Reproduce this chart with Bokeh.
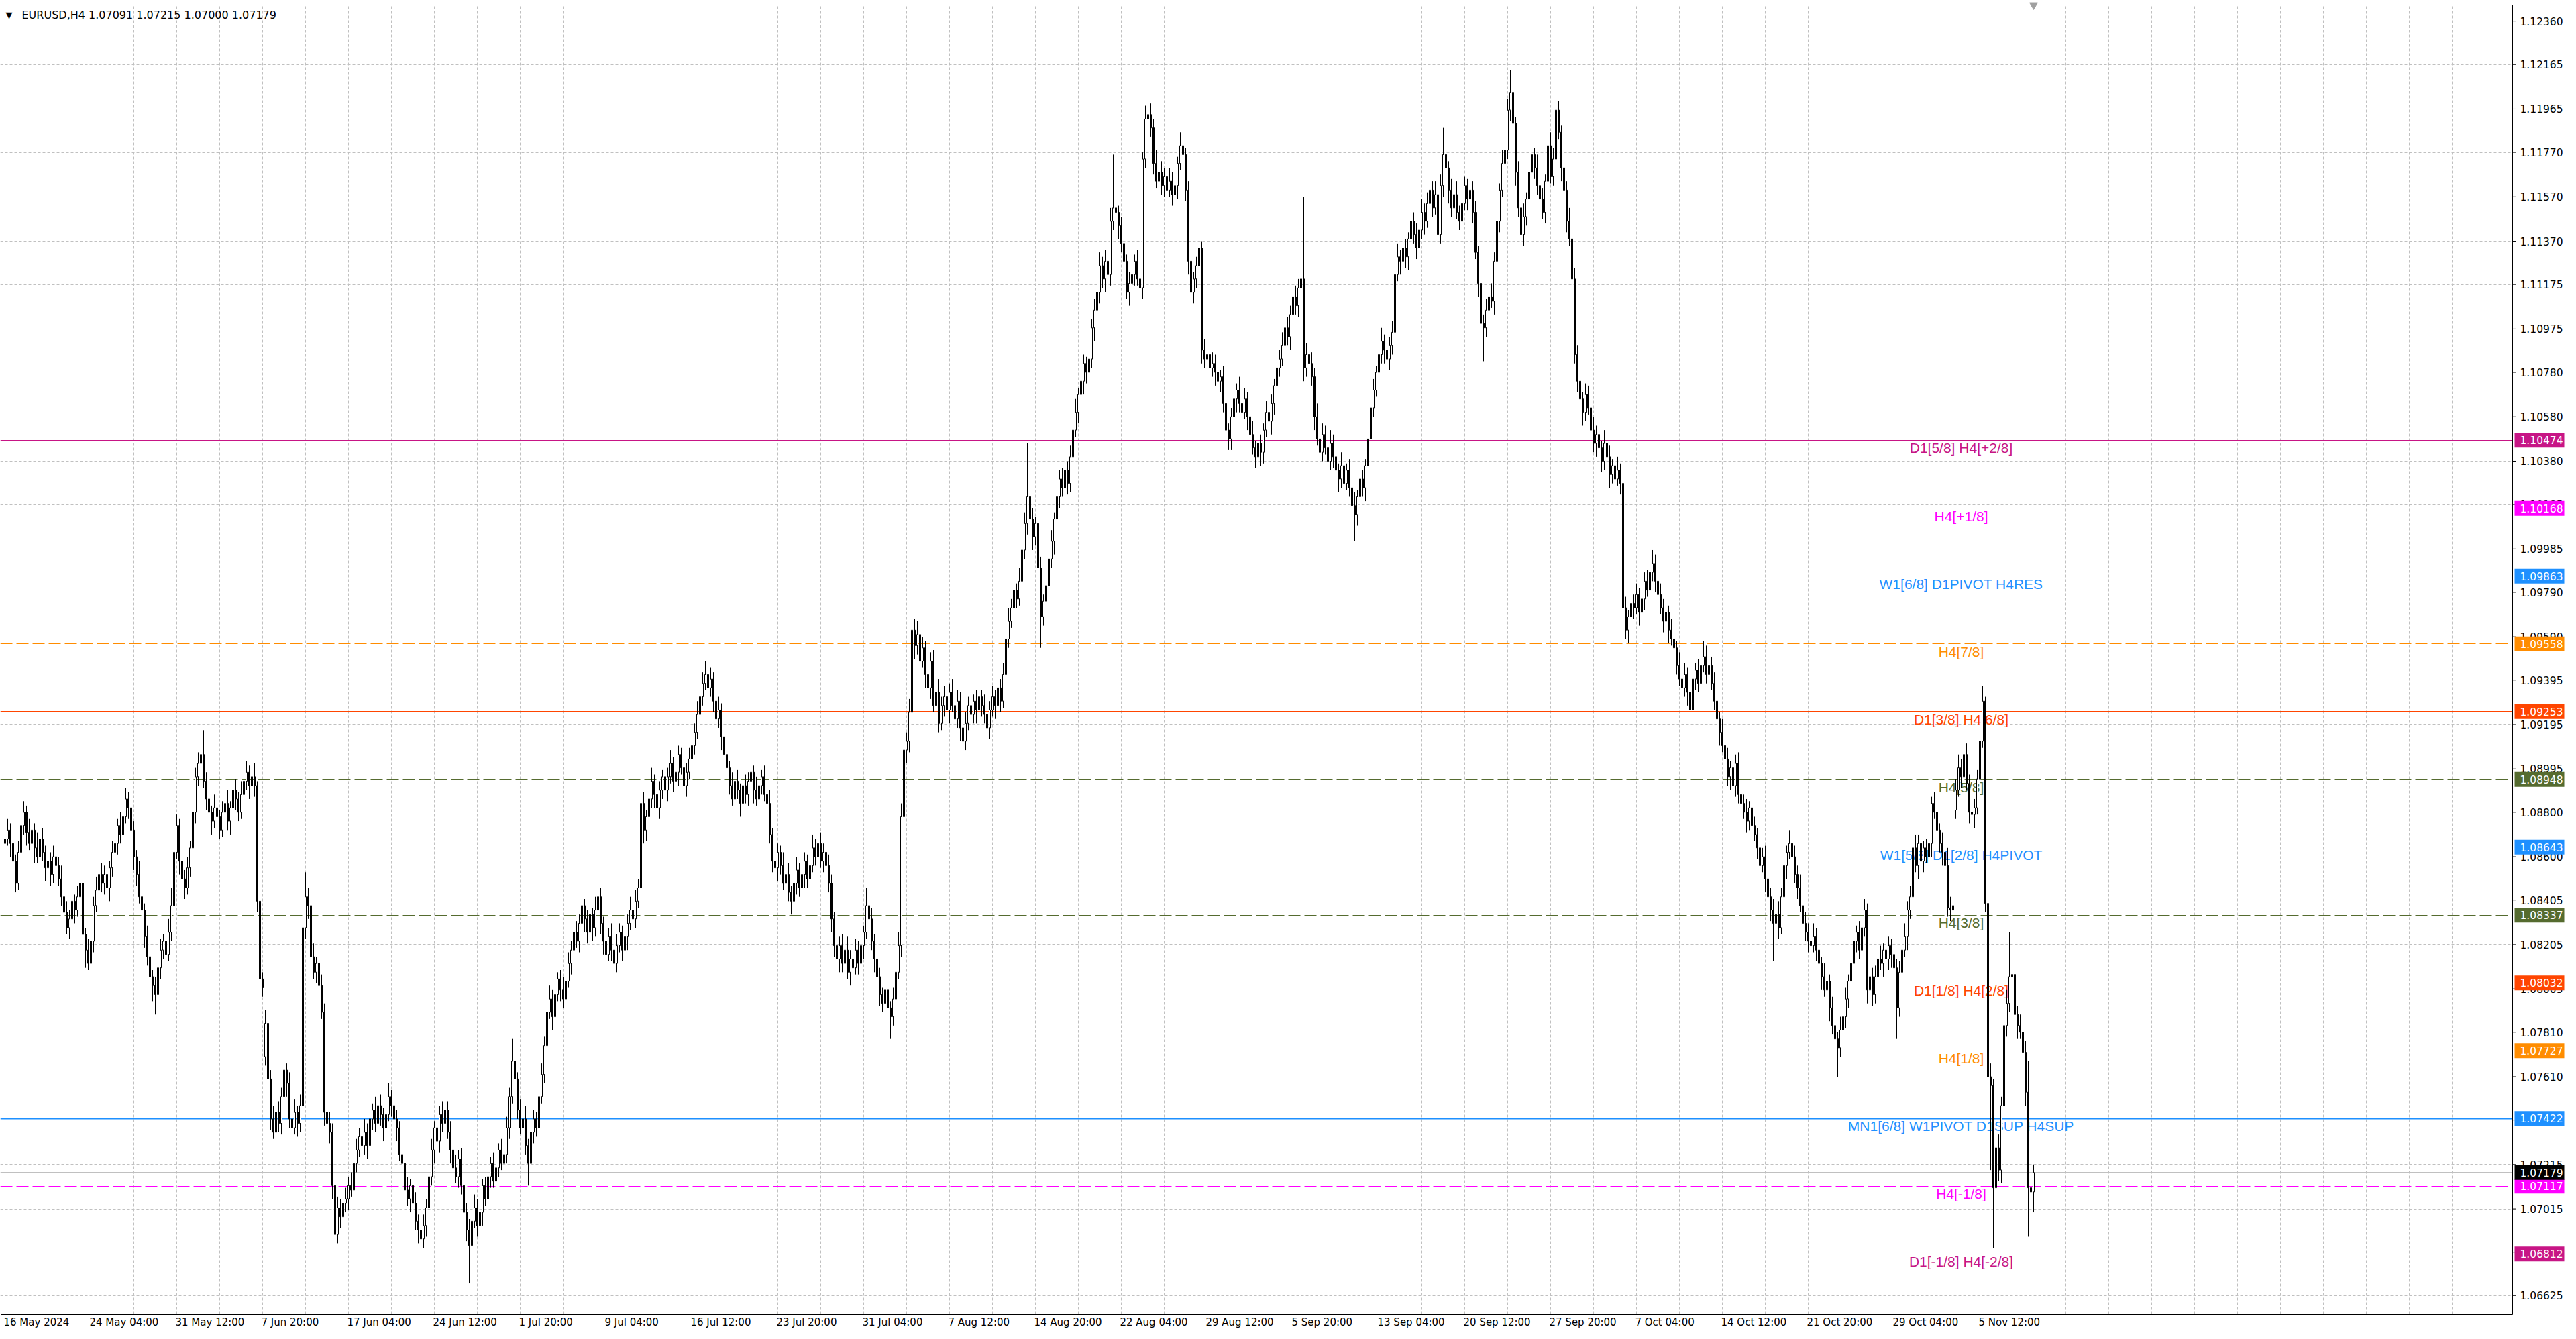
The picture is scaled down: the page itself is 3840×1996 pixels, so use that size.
import numpy as np
from bokeh.plotting import figure
from bokeh.models import Range1d, FixedTicker, ColumnDataSource
from bokeh.core.properties import value
from bokeh.embed import file_html
from bokeh.resources import INLINE

symbol = "EURUSD,H4"

# H4 closes in pips (0.0001), bar 0 = Thu 16 May 2024 20:00, one line per trading week
closes = [
    10868, 10872, 10866, 10858, 10848, 10862, 10874,
    10880, 10871, 10866, 10872, 10864, 10860, 10868, 10862, 10855, 10858, 10852, 10860, 10856, 10850, 10842, 10835, 10828, 10832, 10840, 10836, 10842, 10848, 10825, 10818, 10812, 10822, 10838, 10845, 10852, 10848,
    10852, 10846, 10855, 10862, 10866, 10874, 10870, 10878, 10886, 10882, 10872, 10860, 10852, 10842, 10836, 10824, 10815, 10806, 10802, 10798, 10810, 10818, 10822, 10816, 10826, 10838, 10862, 10874, 10858, 10850,
    10846, 10855, 10864, 10880, 10896, 10902, 10906, 10894, 10886, 10880, 10876, 10882, 10878, 10872, 10880, 10884, 10876, 10882, 10890, 10886, 10880, 10888, 10894, 10898, 10892, 10896, 10892, 10840, 10805, 10801,
    10785, 10760, 10742, 10736, 10745, 10740, 10752, 10764, 10758, 10742, 10738, 10745, 10740, 10748, 10828, 10842, 10838, 10815, 10808, 10812, 10802, 10790, 10745, 10740, 10736, 10712, 10690, 10702, 10698, 10704,
    10706, 10712, 10710, 10722, 10728, 10734, 10730, 10736, 10730, 10742, 10746, 10740, 10748, 10744, 10738, 10744, 10752, 10748, 10742, 10738, 10726, 10722, 10710, 10706, 10712, 10704, 10696, 10692, 10688, 10694,
    10702, 10716, 10728, 10738, 10732, 10744, 10740, 10746, 10736, 10728, 10720, 10716, 10724, 10712, 10700, 10692, 10685, 10696, 10702, 10694, 10700, 10712, 10706, 10716, 10722, 10714, 10720, 10728, 10722, 10726,
    10738, 10752, 10768, 10760, 10746, 10738, 10742, 10730, 10722, 10736, 10742, 10738, 10752, 10762, 10775, 10790, 10796, 10788, 10798, 10805, 10800, 10796, 10804, 10812, 10818, 10826, 10822, 10830, 10838, 10832,
    10826, 10834, 10828, 10836, 10842, 10830, 10822, 10816, 10824, 10818, 10812, 10820, 10826, 10818, 10824, 10830, 10836, 10832, 10840, 10846, 10884, 10872, 10878, 10886, 10894, 10888, 10882, 10890, 10896, 10890,
    10896, 10902, 10894, 10898, 10906, 10900, 10892, 10898, 10904, 10910, 10916, 10924, 10932, 10938, 10942, 10936, 10940, 10930, 10922, 10926, 10914, 10906, 10900, 10892, 10886, 10894, 10890, 10884, 10892, 10888,
    10894, 10898, 10890, 10886, 10892, 10896, 10888, 10884, 10870, 10858, 10855, 10862, 10856, 10848, 10852, 10844, 10840, 10848, 10854, 10846, 10852, 10858, 10850, 10856, 10864, 10860, 10866, 10858, 10862, 10856,
    10848, 10832, 10820, 10814, 10820, 10812, 10818, 10808, 10814, 10810, 10818, 10812, 10820, 10826, 10838, 10832, 10822, 10814, 10806, 10798, 10794, 10800, 10792, 10788, 10796, 10808, 10820, 10878, 10908, 10912,
    10925, 10962, 10955, 10960, 10948, 10954, 10942, 10936, 10948, 10928, 10934, 10920, 10928, 10932, 10926, 10934, 10928, 10922, 10930, 10918, 10912, 10920, 10928, 10924, 10930, 10926, 10932, 10928, 10924, 10918,
    10926, 10932, 10928, 10936, 10930, 10942, 10958, 10966, 10972, 10980, 10976, 10984, 10998, 11010, 11022, 11012, 11004, 11010, 10990, 10968, 10975, 10982, 10994, 11002, 11012, 11022, 11030, 11026, 11034, 11028,
    11040, 11052, 11060, 11068, 11074, 11082, 11078, 11084, 11098, 11106, 11114, 11126, 11120, 11128, 11122, 11146, 11152, 11150, 11144, 11136, 11128, 11114, 11118, 11122, 11128, 11120, 11116, 11174, 11192, 11194,
    11188, 11172, 11164, 11168, 11162, 11166, 11160, 11164, 11158, 11162, 11172, 11180, 11176, 11160, 11128, 11114, 11120, 11126, 11134, 11088, 11084, 11086, 11080, 11082, 11078, 11074, 11076, 11064, 11052, 11048,
    11058, 11066, 11070, 11064, 11060, 11066, 11058, 11050, 11044, 11040, 11046, 11042, 11052, 11060, 11056, 11064, 11072, 11080, 11084, 11090, 11098, 11094, 11104, 11112, 11108, 11116, 11120, 11080, 11086, 11082,
    11076, 11058, 11048, 11042, 11050, 11044, 11038, 11046, 11040, 11034, 11030, 11036, 11028, 11034, 11026, 11018, 11014, 11022, 11030, 11026, 11036, 11048, 11062, 11070, 11078, 11086, 11092, 11088, 11084, 11090,
    11096, 11122, 11130, 11128, 11134, 11130, 11138, 11146, 11140, 11134, 11142, 11150, 11146, 11154, 11160, 11152, 11158, 11140, 11162, 11176, 11170, 11160, 11152, 11158, 11150, 11146, 11154, 11162, 11156, 11160,
    11150, 11132, 11118, 11100, 11098, 11106, 11112, 11110, 11128, 11146, 11160, 11172, 11178, 11196, 11204, 11190, 11168, 11152, 11140, 11148, 11156, 11168, 11176, 11170, 11162, 11156, 11150, 11164, 11180, 11166,
    11174, 11196, 11186, 11170, 11160, 11146, 11138, 11120, 11086, 11074, 11066, 11060, 11068, 11062, 11052, 11046, 11050, 11044, 11038, 11046, 11040, 11032, 11036, 11030, 11034, 11028, 10972, 10962, 10968, 10974,
    10972, 10978, 10970, 10976, 10984, 10980, 10988, 10992, 10984, 10978, 10972, 10966, 10970, 10962, 10958, 10954, 10946, 10940, 10936, 10942, 10934, 10926, 10940, 10944, 10938, 10946, 10950, 10942, 10946, 10938,
    10930, 10922, 10916, 10910, 10904, 10896, 10900, 10892, 10902, 10888, 10884, 10880, 10876, 10882, 10874, 10870, 10864, 10856, 10860, 10850, 10842, 10836, 10830, 10834, 10828, 10842, 10856, 10862, 10866, 10860,
    10852, 10846, 10838, 10830, 10826, 10822, 10820, 10824, 10818, 10812, 10806, 10800, 10804, 10792, 10784, 10778, 10774, 10782, 10788, 10796, 10804, 10812, 10822, 10826, 10818, 10828, 10836, 10800, 10806, 10798,
    10806, 10814, 10812, 10818, 10814, 10820, 10816, 10810, 10792, 10808, 10818, 10824, 10836, 10842, 10864, 10856, 10866, 10858, 10864, 10860, 10866, 10884, 10880, 10872, 10866, 10862, 10856, 10837, 10836, 10838,
    10890, 10900, 10896, 10906, 10893, 10880, 10879, 10882, 10895, 10912, 10930, 10839, 10761, 10757, 10711, 10729, 10719, 10748, 10784, 10794, 10806, 10807, 10789, 10784, 10781, 10772, 10754, 10711, 10709.1, 10717.9,
]

# wick lengths in pips above the body and below the body
upper_wick = [
    4, 5, 3, 6, 3, 5, 4,
    5, 3, 6, 4, 3, 7, 4, 5, 3, 6, 4, 5, 3, 4, 6, 3, 5, 4, 7, 3, 5, 6, 4, 3, 5, 8, 4, 6, 3, 5,
    4, 6, 3, 5, 4, 3, 6, 4, 5, 3, 5, 4, 3, 6, 4, 3, 5, 4, 3, 4, 6, 5, 3, 4, 6, 8, 4, 5, 3, 4,
    4, 5, 3, 6, 4, 5, 3, 11, 4, 5, 3, 6, 4, 3, 5, 4, 6, 3, 4, 5, 3, 6, 4, 5, 3, 4, 6, 2, 4, 3,
    6, 5, 4, 6, 3, 5, 4, 6, 3, 5, 4, 6, 3, 5, 5, 11, 4, 5, 6, 3, 4, 5, 4, 3, 5, 4, 3, 5, 4, 6,
    5, 4, 6, 3, 5, 4, 3, 6, 4, 5, 3, 6, 4, 5, 3, 4, 6, 3, 5, 4, 3, 5, 4, 6, 3, 4, 5, 3, 4, 5,
    4, 6, 5, 3, 5, 4, 6, 3, 4, 5, 3, 6, 4, 5, 3, 4, 5, 3, 6, 4, 5, 3, 4, 6, 3, 5, 4, 3, 5, 4,
    5, 4, 10, 4, 3, 5, 4, 6, 3, 5, 4, 3, 6, 5, 4, 3, 6, 4, 5, 3, 4, 6, 3, 5, 4, 3, 5, 4, 6, 3,
    4, 5, 3, 6, 6, 4, 3, 5, 4, 6, 3, 5, 4, 3, 5, 4, 6, 3, 5, 4, 6, 5, 3, 4, 6, 3, 5, 4, 3, 5,
    4, 6, 3, 5, 4, 3, 6, 4, 5, 3, 4, 6, 3, 5, 6, 4, 5, 3, 4, 6, 3, 5, 4, 3, 6, 4, 5, 3, 4, 5,
    4, 5, 3, 6, 4, 3, 5, 4, 6, 3, 5, 4, 3, 6, 4, 5, 3, 4, 6, 3, 5, 4, 3, 5, 6, 4, 3, 5, 4, 6,
    5, 4, 3, 6, 4, 5, 3, 6, 4, 3, 5, 4, 6, 3, 8, 4, 5, 3, 6, 4, 3, 5, 4, 3, 5, 4, 6, 6, 5, 4,
    6, 47, 5, 6, 4, 5, 3, 6, 4, 5, 3, 6, 4, 5, 3, 4, 6, 3, 5, 4, 3, 5, 4, 6, 3, 5, 4, 3, 5, 4,
    4, 5, 3, 6, 4, 5, 3, 6, 4, 5, 3, 6, 4, 5, 24, 4, 5, 3, 4, 5, 3, 6, 4, 5, 3, 6, 4, 5, 3, 4,
    5, 4, 6, 3, 5, 4, 3, 6, 4, 5, 3, 6, 4, 5, 4, 6, 24, 5, 3, 4, 6, 3, 5, 4, 3, 5, 4, 3, 6, 9,
    5, 4, 6, 3, 5, 4, 3, 6, 4, 5, 3, 6, 5, 3, 4, 5, 3, 4, 6, 3, 5, 4, 3, 5, 4, 6, 3, 5, 4, 3,
    4, 5, 3, 6, 4, 5, 3, 4, 6, 3, 5, 4, 3, 5, 6, 4, 3, 5, 4, 6, 3, 5, 4, 3, 5, 4, 6, 37, 5, 4,
    5, 4, 6, 3, 5, 4, 3, 6, 4, 5, 3, 6, 4, 3, 5, 4, 6, 3, 5, 4, 3, 6, 4, 5, 3, 4, 6, 3, 5, 4,
    5, 4, 6, 3, 5, 4, 3, 6, 4, 5, 3, 6, 4, 5, 3, 4, 6, 31, 5, 12, 4, 3, 5, 4, 6, 3, 5, 4, 3, 5,
    4, 5, 3, 6, 4, 5, 3, 6, 4, 5, 3, 6, 4, 5, 10, 4, 3, 5, 4, 6, 3, 5, 4, 3, 6, 4, 5, 3, 4, 6,
    5, 13, 4, 3, 5, 4, 6, 3, 5, 4, 6, 3, 5, 4, 3, 6, 4, 5, 3, 6, 4, 5, 3, 4, 6, 3, 4, 5, 3, 6,
    4, 5, 3, 6, 4, 5, 3, 6, 4, 3, 5, 4, 6, 3, 5, 4, 3, 6, 4, 5, 3, 4, 6, 3, 5, 4, 7, 5, 3, 4,
    5, 4, 3, 6, 4, 5, 3, 6, 4, 5, 3, 4, 6, 3, 5, 4, 3, 6, 4, 5, 3, 4, 5, 3, 6, 4, 5, 3, 6, 4,
    5, 4, 6, 3, 5, 4, 3, 6, 4, 5, 3, 6, 4, 3, 5, 4, 3, 6, 4, 5, 3, 4, 6, 3, 5, 4, 5, 3, 6, 4,
    5, 4, 6, 3, 5, 4, 3, 6, 4, 5, 3, 6, 4, 5, 3, 6, 4, 5, 3, 4, 6, 3, 5, 4, 3, 5, 4, 8, 5, 4,
    5, 6, 4, 3, 5, 4, 3, 4, 4, 5, 7, 2, 3, 6, 3, 4, 6, 4, 5, 6, 20, 4, 5, 4, 5, 4, 5, 14, 5, 3.6,
]
lower_wick = [
    5, 3, 6, 4, 4, 3, 5,
    4, 6, 3, 5, 7, 3, 5, 4, 6, 3, 5, 4, 6, 3, 4, 7, 3, 5, 4, 6, 3, 4, 5, 8, 3, 4, 5, 3, 6, 4,
    5, 3, 6, 4, 3, 5, 4, 6, 3, 5, 4, 6, 5, 3, 6, 5, 4, 6, 7, 9, 3, 5, 4, 6, 3, 4, 5, 3, 6, 5,
    5, 3, 4, 3, 5, 4, 6, 3, 5, 4, 6, 3, 5, 4, 3, 5, 4, 6, 3, 5, 4, 3, 5, 4, 6, 3, 5, 5, 8, 4,
    4, 6, 5, 3, 6, 4, 5, 3, 6, 4, 5, 3, 6, 4, 3, 5, 6, 4, 3, 5, 4, 3, 6, 4, 5, 6, 22, 4, 5, 3,
    4, 5, 3, 6, 4, 3, 5, 4, 6, 3, 5, 4, 3, 5, 6, 4, 3, 5, 4, 6, 3, 5, 4, 3, 6, 5, 4, 6, 15, 4,
    5, 3, 4, 6, 3, 5, 4, 5, 3, 6, 4, 3, 5, 4, 6, 5, 17, 4, 3, 5, 4, 6, 3, 4, 5, 3, 6, 4, 3, 5,
    4, 5, 3, 6, 4, 3, 5, 4, 10, 3, 5, 4, 6, 3, 4, 5, 3, 6, 4, 3, 5, 4, 6, 3, 5, 4, 3, 5, 4, 6,
    5, 3, 6, 4, 3, 5, 6, 4, 3, 5, 6, 4, 3, 5, 4, 6, 3, 5, 4, 3, 4, 6, 5, 3, 4, 6, 3, 5, 4, 6,
    5, 3, 5, 4, 6, 3, 4, 5, 3, 6, 4, 3, 5, 4, 3, 6, 4, 5, 3, 4, 6, 3, 5, 4, 3, 5, 4, 6, 3, 4,
    5, 4, 6, 3, 5, 4, 3, 6, 4, 5, 3, 6, 4, 3, 5, 4, 6, 3, 5, 4, 3, 6, 4, 5, 3, 4, 6, 3, 5, 4,
    4, 6, 5, 3, 6, 4, 5, 3, 6, 4, 3, 5, 4, 6, 3, 5, 4, 6, 3, 5, 4, 3, 5, 10, 4, 5, 3, 5, 4, 6,
    5, 8, 6, 4, 5, 3, 6, 4, 5, 3, 6, 4, 3, 5, 4, 6, 3, 5, 4, 6, 8, 4, 3, 5, 4, 6, 3, 5, 4, 3,
    5, 3, 6, 4, 5, 3, 6, 4, 3, 5, 4, 3, 6, 4, 5, 3, 6, 4, 5, 14, 4, 3, 5, 4, 6, 3, 5, 4, 6, 5,
    4, 6, 3, 5, 4, 6, 5, 3, 4, 6, 3, 5, 4, 6, 3, 5, 4, 3, 6, 4, 5, 3, 6, 4, 5, 3, 6, 5, 4, 5,
    4, 5, 3, 6, 4, 5, 6, 3, 5, 4, 6, 3, 4, 5, 6, 3, 5, 4, 3, 6, 4, 5, 3, 4, 6, 3, 5, 4, 6, 5,
    5, 3, 6, 4, 5, 3, 6, 4, 3, 5, 4, 6, 5, 3, 4, 6, 5, 3, 4, 3, 5, 4, 6, 3, 4, 5, 3, 6, 4, 5,
    4, 6, 3, 5, 4, 3, 6, 4, 5, 3, 6, 4, 5, 3, 4, 6, 12, 5, 3, 4, 6, 3, 5, 4, 3, 5, 4, 6, 3, 5,
    4, 5, 3, 6, 4, 5, 6, 3, 4, 5, 3, 4, 6, 3, 5, 4, 3, 6, 4, 5, 3, 6, 4, 5, 3, 4, 6, 3, 5, 4,
    5, 3, 6, 12, 15, 4, 5, 3, 6, 4, 5, 3, 6, 4, 5, 3, 6, 4, 3, 5, 4, 6, 3, 5, 4, 6, 3, 5, 4, 3,
    4, 5, 3, 6, 4, 5, 3, 6, 4, 5, 3, 6, 4, 3, 5, 4, 6, 3, 5, 4, 3, 6, 4, 5, 3, 5, 8, 4, 6, 3,
    5, 3, 6, 4, 5, 3, 6, 4, 5, 6, 3, 5, 4, 6, 3, 5, 4, 3, 5, 4, 6, 20, 3, 5, 4, 6, 3, 4, 5, 3,
    4, 5, 6, 3, 5, 4, 6, 3, 5, 4, 6, 3, 5, 4, 6, 3, 5, 4, 3, 6, 4, 5, 17, 4, 5, 3, 4, 6, 3, 5,
    4, 5, 3, 6, 4, 5, 6, 3, 5, 4, 6, 3, 5, 6, 4, 5, 13, 4, 3, 5, 4, 6, 3, 5, 4, 3, 4, 6, 3, 5,
    4, 5, 3, 6, 4, 5, 6, 3, 14, 4, 5, 3, 6, 4, 5, 3, 6, 4, 5, 3, 4, 6, 3, 5, 4, 6, 3, 4, 5, 3,
    4, 3, 5, 4, 3, 5, 4, 6, 3, 4, 3, 4, 5, 38, 27, 11, 5, 6, 4, 5, 4, 6, 4, 6, 3, 5, 6, 22, 4, 9.1,
]

first_open = 10866
gap_opens = {97: 10770, 727: 10881}   # Monday opens after a weekend gap

date_labels = ["16 May 2024", "24 May 04:00", "31 May 12:00", "7 Jun 20:00", "17 Jun 04:00",
               "24 Jun 12:00", "1 Jul 20:00", "9 Jul 04:00", "16 Jul 12:00", "23 Jul 20:00",
               "31 Jul 04:00", "7 Aug 12:00", "14 Aug 20:00", "22 Aug 04:00", "29 Aug 12:00",
               "5 Sep 20:00", "13 Sep 04:00", "20 Sep 12:00", "27 Sep 20:00", "7 Oct 04:00",
               "14 Oct 12:00", "21 Oct 20:00", "29 Oct 04:00", "5 Nov 12:00"]
date_label_step = 32

price_ticks = [1.12360, 1.12165, 1.11965, 1.11770, 1.11570, 1.11370, 1.11175, 1.10975, 1.10780,
               1.10580, 1.10380, 1.10185, 1.09985, 1.09790, 1.09590, 1.09395, 1.09195, 1.08995,
               1.08800, 1.08600, 1.08405, 1.08205, 1.08005, 1.07810, 1.07610, 1.07415, 1.07215,
               1.07015, 1.06820, 1.06625]

levels = [1.10474, 1.10168, 1.09863, 1.09558, 1.09253, 1.08948, 1.08643,
          1.08337, 1.08032, 1.07727, 1.07422, 1.07117, 1.06812]
level_names = ["D1[5/8] H4[+2/8]", "H4[+1/8]", "W1[6/8] D1PIVOT H4RES", "H4[7/8]",
               "D1[3/8] H4[6/8]", "H4[5/8]", "W1[5/8] D1[2/8] H4PIVOT", "H4[3/8]",
               "D1[1/8] H4[2/8]", "H4[1/8]", "MN1[6/8] W1PIVOT D1SUP H4SUP", "H4[-1/8]",
               "D1[-1/8] H4[-2/8]"]
level_colors = ["#C71585", "#FF00FF", "#1E90FF", "#FF8C00", "#FF4500", "#556B2F", "#1E90FF",
                "#556B2F", "#FF4500", "#FF8C00", "#1E90FF", "#FF00FF", "#C71585"]
level_dashed = [False, True, False, True, False, True, False, True, False, True, False, True, False]
level_widths = [1, 1, 1, 1, 1, 1, 1, 1, 1, 1, 2, 1, 1]

# ---- candles ----
c = np.array(closes, dtype=float) / 1e4
o = np.empty_like(c)
o[0] = first_open / 1e4
o[1:] = c[:-1]
for i, v in gap_opens.items():
    o[i] = v / 1e4
body_top = np.maximum(o, c)
body_bot = np.minimum(o, c)
hi = body_top + np.array(upper_wick, dtype=float) / 1e4
lo = body_bot - np.array(lower_wick, dtype=float) / 1e4
idx = np.arange(len(c))

src = ColumnDataSource(dict(
    x=idx, top=body_top, bot=body_bot, hi=hi, lo=lo,
    fill=np.where(c >= o, "white", "black"),
))

# ---- layout (the whole canvas is the plot frame; price scale and time scale drawn in it) ----
W, H = 3824, 1980
BAR_PX = 4                      # pixels per bar
X0 = -1.75                      # bar 0 sits 7 px from the left edge
X1 = X0 + W / BAR_PX
AXIS_X = X0 + 3745 / BAR_PX     # price scale line
PX = 3.019e-5                   # price per pixel
Y1 = 1.12454                    # price at the top edge
Y0 = Y1 - H * PX
CHART_TOP = Y1 - 7 * PX
CHART_BOT = Y1 - 1959 * PX
LABEL_X = 729
FONT = value("DejaVu Sans")
SCALE_FONT = "15.5px"

p = figure(width=W, height=H, output_backend="svg", toolbar_location=None,
           x_range=Range1d(X0, X1), y_range=Range1d(Y0, Y1),
           x_axis_location=None, y_axis_location=None,
           min_border=0)
p.background_fill_color = "white"
p.border_fill_color = "white"
p.outline_line_color = None

p.xgrid.ticker = FixedTicker(ticks=list(range(0, 936, 16)))
p.ygrid.ticker = FixedTicker(ticks=price_ticks)
for g in (p.xgrid, p.ygrid):
    g.grid_line_color = "#C0C0C0"
    g.grid_line_dash = "4 3"
    g.grid_line_width = 1

# ---- level lines and their names ----
for dashed in (False, True):
    sel = [k for k in range(len(levels)) if level_dashed[k] == dashed]
    p.hspan(y=[levels[k] for k in sel], line_color=[level_colors[k] for k in sel],
            line_width=[level_widths[k] for k in sel], line_dash="18 6" if dashed else "solid")

p.hspan(y=[c[-1]], line_color="#C0C0C0", line_width=1)

lvl_src = ColumnDataSource(dict(x=[LABEL_X] * len(levels), y=levels, t=level_names, col=level_colors))
p.text(x="x", y="y", text="t", text_color="col", source=lvl_src,
       text_font=value("Liberation Sans"), text_font_size="21px",
       text_align="center", text_baseline="top", y_offset=0)

# ---- white margins for the scales, and the chart frame ----
p.quad(left=[AXIS_X, X0, X0], right=[X1, AXIS_X, AXIS_X],
       bottom=[Y0, Y0, CHART_TOP], top=[Y1, CHART_BOT, Y1],
       fill_color="white", line_color=None)
p.quad(left=[X0 + 1 / BAR_PX], right=[AXIS_X], bottom=[CHART_BOT], top=[CHART_TOP],
       fill_color=None, line_color="black", line_width=1)

# ---- candles ----
p.segment(x0="x", y0="lo", x1="x", y1="hi", line_color="black", line_width=1, source=src)
p.vbar(x="x", width=0.5, top="top", bottom="bot", fill_color="fill",
       line_color="black", line_width=1, source=src)

# ---- price scale ----
tick_src = ColumnDataSource(dict(x=[AXIS_X] * len(price_ticks), y=price_ticks,
                                 t=[f"{v:.5f}" for v in price_ticks]))
p.segment(x0="x", y0="y", x1=AXIS_X + 5 / BAR_PX, y1="y", line_color="black", source=tick_src)
p.text(x="x", y="y", text="t", source=tick_src, x_offset=11, text_font=FONT,
       text_font_size=SCALE_FONT, text_color="black", text_align="left", text_baseline="middle")

tag_values = levels + [c[-1]]
tag_colors = level_colors + ["black"]
tag_src = ColumnDataSource(dict(
    left=[AXIS_X + 3 / BAR_PX] * len(tag_values), right=[AXIS_X + 77 / BAR_PX] * len(tag_values),
    top=[v + 11 * PX for v in tag_values], bottom=[v - 11 * PX for v in tag_values],
    x=[AXIS_X] * len(tag_values), y=tag_values,
    t=[f"{v:.5f}" for v in tag_values], col=tag_colors))
p.quad(left="left", right="right", top="top", bottom="bottom", fill_color="col",
       line_color=None, source=tag_src)
p.text(x="x", y="y", text="t", source=tag_src, x_offset=11, text_font=FONT,
       text_font_size=SCALE_FONT, text_color="white", text_align="left", text_baseline="middle")

# ---- time scale ----
date_src = ColumnDataSource(dict(x=[k * date_label_step for k in range(len(date_labels))],
                                 y=[CHART_BOT] * len(date_labels), t=date_labels))
p.text(x="x", y="y", text="t", source=date_src, x_offset=-2, y_offset=11, text_font=FONT,
       text_font_size="15px", text_color="black", text_align="left", text_baseline="middle")

# ---- header and chart-shift marker ----
p.text(x=[X0], y=[Y1], text=["\u25bc"], x_offset=8, y_offset=22, text_font=FONT,
       text_font_size="13px", text_color="black", text_align="left", text_baseline="middle")
p.text(x=[X0], y=[Y1], text=[f"{symbol}  {o[-1]:.5f} {hi[-1]:.5f} {lo[-1]:.5f} {c[-1]:.5f}"],
       x_offset=32, y_offset=22, text_font=FONT, text_font_size="16px", text_color="black",
       text_align="left", text_baseline="middle")
p.scatter(x=[idx[-1]], y=[CHART_TOP], marker="inverted_triangle", size=12,
          fill_color="#A0A0A0", line_color="#A0A0A0")

open("out.html", "w").write(file_html(p, INLINE))
